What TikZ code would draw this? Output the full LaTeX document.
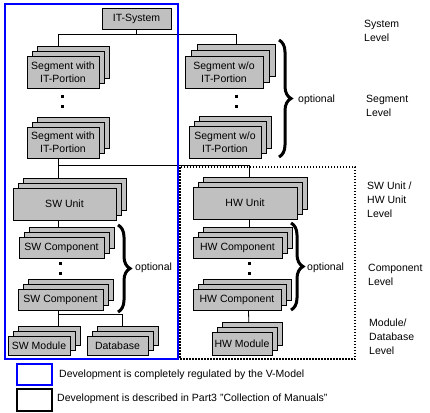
\documentclass[tikz,border=0pt]{standalone}
\usepackage{fontspec}
\setmainfont{Liberation Sans}
\usetikzlibrary{shadows,backgrounds,decorations.pathreplacing,calc}
\definecolor{boxgray}{RGB}{192,192,192}
\definecolor{vblue}{RGB}{0,0,255}
\newcommand\fsbox{\fontsize{10.5}{13}\selectfont}
\newcommand\fslab{\fontsize{10.5}{14}\selectfont}
\begin{document}
\begin{tikzpicture}[x=1pt,y=-1pt,
  box/.style={draw=black, fill=boxgray, line width=0.8pt, inner sep=0pt, align=center, font=\fsbox},
  stack/.style={box,
    copy shadow={shadow xshift=2*#1pt, shadow yshift=2*#1pt, fill=boxgray, draw=black, line width=0.8pt},
    copy shadow={shadow xshift=#1pt, shadow yshift=#1pt, fill=boxgray, draw=black, line width=0.8pt}},
  stack/.default=5,
  conn/.style={draw=black, line width=0.8pt},
  dotmark/.style={rectangle, fill=black, minimum size=3pt, inner sep=0pt},
  bracedeco/.style={decorate, decoration={brace, amplitude=12pt}, line width=3pt},
  lab/.style={anchor=west, align=left, font=\fslab, inner sep=0pt},
  opt/.style={anchor=west, font=\fsbox, inner sep=0pt}]
\useasboundingbox (0,0) rectangle (430,412);

% boxes
\node[box, minimum width=69pt, minimum height=21pt] (it) at (136.5,18.5) {IT-System};
\node[stack, minimum width=72pt, minimum height=32pt] (sw1) at (63,72) {Segment with\\IT-Portion};
\node[stack, minimum width=72pt, minimum height=31pt] (sw2) at (63,142.5) {Segment with\\IT-Portion};
\node[stack=6, minimum width=78pt, minimum height=32pt] (so1) at (224,72) {Segment w/o\\IT-Portion};
\node[stack, minimum width=72pt, minimum height=32pt] (so2) at (225,142) {Segment w/o\\IT-Portion};
\node[stack, minimum width=103pt, minimum height=32pt] (swu) at (64.5,204) {SW Unit};
\node[stack, minimum width=85pt, minimum height=21pt] (swc1) at (61.5,247.5) {SW Component};
\node[stack, minimum width=85pt, minimum height=21pt] (swc2) at (60.5,299.5) {SW Component};
\node[stack, minimum width=62pt, minimum height=19pt] (swm) at (39,345.5) {SW Module};
\node[stack, minimum width=61pt, minimum height=19pt] (db) at (117.5,345.5) {Database};
\node[stack, minimum width=104pt, minimum height=32pt] (hwu) at (245,203) {HW Unit};
\node[stack, minimum width=89pt, minimum height=21pt] (hwc1) at (237.5,247.5) {HW Component};
\node[stack, minimum width=88pt, minimum height=21pt] (hwc2) at (237,299.5) {HW Component};
\node[stack, minimum width=60pt, minimum height=23pt] (hwm) at (242,343.5) {HW Module};

% dots
\node[dotmark] (d1) at (62,96) {};
\node[dotmark] (d2) at (62,106) {};
\node[dotmark] (d3) at (236,96) {};
\node[dotmark] (d4) at (236,106) {};
\node[dotmark] (d5) at (60,263) {};
\node[dotmark] (d6) at (60,273) {};
\node[dotmark] (d7) at (249,263) {};
\node[dotmark] (d8) at (249,273) {};

% connectors
\coordinate (j1) at (136.5,34);
\coordinate (j2) at (58,165);
\coordinate (j3) at (58,314);
\begin{scope}[on background layer]
\draw[conn] (it.south) -- (j1);
\draw[conn] (j1) -| ([xshift=-5pt]sw1.north);
\draw[conn] (j1) -| ([xshift=12pt]so1.north);
\draw[conn] ([xshift=-5pt]sw2.south) -- ([xshift=-6.5pt]swu.north);
\draw[conn] (j2) -| ([xshift=4pt]hwu.north);
\draw[conn] ([xshift=-6.5pt]swu.south) -- ([xshift=-3.5pt]swc1.north);
\draw[conn] ([xshift=-2.5pt]swc2.south) -- (j3);
\draw[conn] (j3) -- (j3 |- swm.north);
\draw[conn] (j3) -| ([xshift=4.5pt]db.north);
\draw[conn] ([xshift=4pt]hwu.south) -- ([xshift=11.5pt]hwc1.north);
\draw[conn] ([xshift=11.5pt]hwc2.south) -- ([xshift=7pt]hwm.north);
\end{scope}

% braces and optional
\draw[bracedeco] (279,40) -- (279,157);
\node[opt] (o1) at (298,100) {optional};
\draw[bracedeco] (118,225) -- (118,312);
\node[opt] (o2) at (135,268) {optional};
\draw[bracedeco] (291,223) -- (291,310);
\node[opt] (o3) at (307,268) {optional};

% regions
\draw[vblue, line width=2pt] (5,4) rectangle (178,359);
\draw[black, line width=1.5pt, dash pattern=on 1.5pt off 1.5pt] (180,167) rectangle (355,359);

% level labels
\node[lab] (l1) at (364,31) {System\\Level};
\node[lab] (l2) at (366,106) {Segment\\Level};
\node[lab] (l3) at (367,200) {SW Unit /\\HW Unit\\Level};
\node[lab] (l4) at (368,275) {Component\\Level};
\node[lab] (l5) at (369,337) {Module/\\Database\\Level};

% legend
\node[draw=vblue, line width=2pt, minimum width=35pt, minimum height=21pt, inner sep=0pt] (lg1) at (34.5,374.5) {};
\node[draw=black, line width=2pt, minimum width=35pt, minimum height=22pt, inner sep=0pt] (lg2) at (34.5,400) {};
\node[opt] (t1) at (59,375) {Development is completely regulated by the V-Model};
\node[opt] (t2) at (57,399) {Development is described in Part3 "Collection of Manuals"};
\end{tikzpicture}
\end{document}
